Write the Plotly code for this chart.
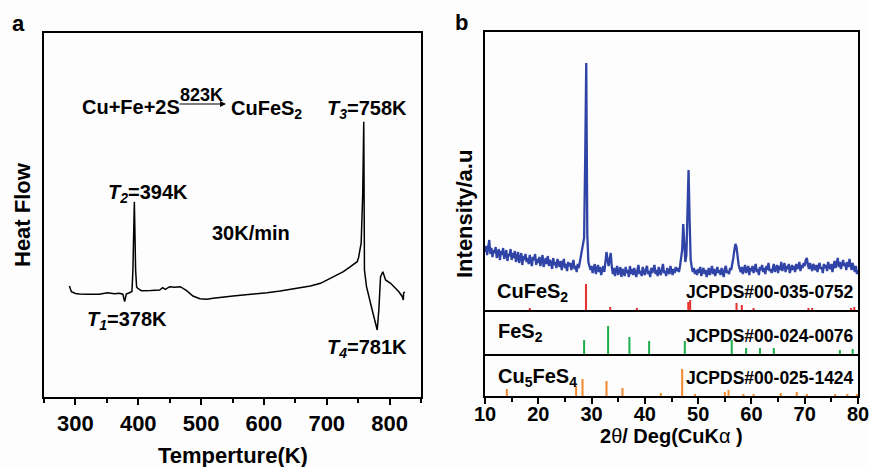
import plotly.graph_objects as go

# ---------------- Panel a : DSC curve ----------------
temps = [290.4, 293.6, 300, 306, 320, 338, 351, 362, 370, 375.5, 378.3, 381,
         385, 390, 391.5, 393.8, 395.8, 397.4, 399, 405, 420, 434, 439, 443,
         450, 458, 467, 477, 487, 498, 509, 519, 551, 578, 605, 626, 658, 674,
         690, 706, 726.5, 737.7, 743, 748.4, 750.5, 754.8, 757.3, 758.9, 760,
         763.3, 772.3, 780.3, 782.9, 785.6, 789.3, 793.6, 801.6, 814.8, 820.3,
         821.9, 822.3, 824]
heat_flow = [111, 105.3, 103.5, 103, 102.8, 102.7, 104.3, 103.2, 103.7, 102.8, 95.3, 103,
             104, 105.5, 127, 195.3, 127, 110, 108.7, 106.3, 106.5, 107, 109.3, 107.7,
             110.3, 109.7, 110.3, 106.3, 101, 98.3, 97.7, 98.7, 101, 102.5, 104.3, 106, 109.5, 111,
             113.7, 118.7, 125.3, 130.3, 133, 135.3, 139, 154, 204, 275.3, 127,
             110.3, 87, 67, 87, 120.3, 125.3, 117, 113.7, 105.3, 100.3,
             97, 104, 105.3]
temp_ticks = [300, 400, 500, 600, 700, 800]

# ---------------- Panel b : XRD ----------------
two_theta_start, two_theta_step = 10.0, 0.2
xrd_intensity = [
    58, 64, 55, 61, 70, 56, 62, 53, 60, 57,
    63, 52, 58, 61, 50, 59, 55, 62, 51, 57,
    60, 49, 56, 54, 61, 50, 57, 52, 59, 48,
    55, 58, 47, 53, 57, 45, 54, 50, 56, 48,
    52, 46, 55, 49, 44, 53, 50, 56, 45, 51,
    47, 53, 44, 50, 55, 43, 49, 52, 46, 54,
    44, 50, 47, 41, 52, 45, 48, 42, 51, 46,
    43, 49, 40, 47, 51, 42, 46, 39, 48, 44,
    47, 40, 45, 50, 41, 44, 38, 46, 42, 49,
    52, 58, 66, 72, 150, 247, 75, 48, 44, 40,
    44, 37, 42, 46, 36, 41, 45, 38, 43, 35,
    40, 44, 38, 46, 58, 50, 44, 51, 57, 43,
    36, 42, 34, 40, 44, 35, 39, 43, 33, 41,
    38, 34, 43, 37, 40, 33, 44, 36, 41, 35,
    42, 37, 33, 40, 45, 36, 39, 34, 43, 38,
    35, 41, 44, 36, 39, 33, 42, 37, 40, 45,
    36, 40, 34, 43, 38, 35, 41, 46, 37, 39,
    34, 42, 38, 36, 44, 40, 35, 41, 37, 43,
    39, 42, 38, 44, 50, 60, 86, 70, 48, 55,
    100, 140, 90, 50, 43, 38, 42, 36, 40, 35,
    41, 37, 43, 34, 39, 42, 36, 40, 33, 38,
    42, 35, 39, 44, 36, 41, 34, 38, 43, 37,
    40, 35, 42, 38, 33, 41, 44, 37, 39, 36,
    42, 40, 45, 52, 60, 66, 63, 52, 45, 41,
    38, 43, 36, 41, 45, 37, 40, 44, 35, 42,
    39, 44, 37, 42, 46, 38, 41, 35, 43, 40,
    45, 38, 42, 36, 44, 40, 47, 39, 41, 37,
    43, 46, 38, 42, 45, 37, 44, 40, 48, 39,
    42, 47, 38, 44, 41, 46, 37, 43, 45, 40,
    44, 38, 46, 41, 43, 48, 39, 45, 42, 47,
    44, 50, 52, 45, 41, 47, 43, 39, 46, 42,
    40, 45, 38, 44, 47, 41, 43, 37, 46, 42,
    45, 39, 48, 43, 41, 46, 38, 44, 49, 42,
    46, 52, 43, 48, 41, 45, 50, 44, 47, 40,
    48, 43, 51, 45, 40, 47, 42, 38, 44, 36,
    40]
two_theta = [round(two_theta_start + i * two_theta_step, 1) for i in range(len(xrd_intensity))]

cufes2_pos = [18.4, 28.95, 33.5, 38.5, 48.15, 48.5, 57.2, 58.2, 60.4, 70.7, 71.4, 78.7, 79.3]
cufes2_int = [2, 26, 3, 2, 8, 10, 7, 5, 2, 2, 2, 2, 3]
fes2_pos = [28.6, 33.1, 37.1, 40.8, 47.5, 56.3, 59.0, 61.6, 64.2, 76.6, 79.0]
fes2_int = [14, 28, 17, 13, 13, 14, 6, 6, 6, 4, 5]
cu5fes4_pos = [14.1, 27.1, 28.3, 32.8, 35.8, 43.0, 47.0, 49.4, 55.0, 55.7, 58.5, 60.4,
               65.5, 68.5, 70.4, 75.7, 78.0, 79.8]
cu5fes4_int = [7, 10, 17, 15, 8, 3, 27, 2, 4, 6, 2, 2, 3, 4, 2, 2, 2, 2]
theta_ticks = [10, 20, 30, 40, 50, 60, 70, 80]

# the page's body margin is removed (see post_script), so the figure fills the window
W, H = 869, 467
FONT = "Liberation Sans, Arial, sans-serif"


def fx(px):
    return px / W


def fy(py):
    return 1 - py / H


fig = go.Figure()
fig.add_trace(go.Scatter(x=temps, y=heat_flow, mode="lines",
                         line=dict(color="black", width=1.5), xaxis="x", yaxis="y"))
fig.add_trace(go.Scatter(x=two_theta, y=xrd_intensity, mode="lines",
                         line=dict(color="#2f44a6", width=2.3), xaxis="x2", yaxis="y2"))
fig.add_trace(go.Bar(x=cufes2_pos, y=cufes2_int, width=0.38, marker=dict(color="#e8302e", line=dict(width=0)),
                     xaxis="x2", yaxis="y2"))
fig.add_trace(go.Bar(x=fes2_pos, y=fes2_int, width=0.38, marker=dict(color="#1fae4c", line=dict(width=0)),
                     xaxis="x3", yaxis="y3"))
fig.add_trace(go.Bar(x=cu5fes4_pos, y=cu5fes4_int, width=0.38, marker=dict(color="#f28a2e", line=dict(width=0)),
                     xaxis="x4", yaxis="y4"))

base = dict(showgrid=False, zeroline=False, automargin=False, linecolor="black", linewidth=2)
frame = dict(showline=True, mirror=True, **base)
no_ticks = dict(ticks="", showticklabels=False)

fig.update_layout(
    width=W, height=H, margin=dict(l=0, r=0, t=0, b=0, pad=0), autosize=False,
    paper_bgcolor="#fdfdfe", plot_bgcolor="#fdfdfe", showlegend=False,
    font=dict(family=FONT, color="black"),
    xaxis=dict(domain=[fx(44), fx(421)], range=[250, 850], anchor="y",
               tickvals=temp_ticks, ticks="outside", ticklen=6, tickwidth=1.5, tickcolor="black",
               tickfont=dict(size=22, family=FONT, weight="bold"), ticklabelstandoff=0,
               ticklabeloverflow="allow",
               minor=dict(dtick=50, tick0=250, ticks="outside", ticklen=4, tickwidth=1.5, tickcolor="black"),
               **frame),
    yaxis=dict(domain=[fy(397), fy(33)], range=[0, 364], anchor="x", **no_ticks, **frame),
    xaxis2=dict(domain=[fx(485), fx(858)], range=[10, 80], anchor="y2", **no_ticks, **frame),
    yaxis2=dict(domain=[fy(310), fy(32)], range=[0, 278], anchor="x2", **no_ticks, **frame),
    xaxis3=dict(domain=[fx(485), fx(858)], range=[10, 80], anchor="y3", showline=True, mirror=False,
                **no_ticks, **base),
    yaxis3=dict(domain=[fy(354), fy(310)], range=[0, 44], anchor="x3", **no_ticks, **frame),
    xaxis4=dict(domain=[fx(485), fx(858)], range=[10, 80], anchor="y4", showline=True, mirror=False,
                tickvals=theta_ticks,
                ticks="outside", ticklen=6, tickwidth=1.5, tickcolor="black",
                tickfont=dict(size=20, family=FONT, weight="bold"), ticklabelstandoff=-7,
                ticklabeloverflow="allow",
                minor=dict(dtick=5, tick0=10, ticks="outside", ticklen=4, tickwidth=1.5, tickcolor="black"),
                **base),
    yaxis4=dict(domain=[fy(396), fy(354)], range=[0, 42], anchor="x4", **no_ticks, **frame),
)


def ann(px, py, text, size, xanchor="left", angle=0):
    fig.add_annotation(x=fx(px), y=fy(py), xref="paper", yref="paper", text=text,
                       showarrow=False, xanchor=xanchor, yanchor="middle", textangle=angle,
                       font=dict(size=size, family=FONT, color="black"))


# panel letters
ann(10, 24, "<b>a</b>", 22)
ann(453, 22, "<b>b</b>", 22)

# panel a texts
ann(80, 107, "<b>Cu+Fe+2S</b>", 20)
ann(201.7, 95, "<b>823K</b>", 18, xanchor="center")
fig.add_annotation(x=fx(226), y=fy(104), xref="paper", yref="paper", text="",
                   showarrow=True, ax=-48, ay=0, arrowhead=2, arrowsize=1,
                   arrowwidth=1.2, arrowcolor="black")
ann(229, 109, "<b>CuFeS<sub>2</sub></b>", 20)
ann(325, 109, "<b><i>T</i><sub><i>3</i></sub>=758K</b>", 20)
ann(106, 193, "<b><i>T</i><sub><i>2</i></sub>=394K</b>", 20)
ann(210, 233, "<b>30K/min</b>", 20)
ann(85, 320, "<b><i>T</i><sub><i>1</i></sub>=378K</b>", 20)
ann(325, 348, "<b><i>T</i><sub><i>4</i></sub>=781K</b>", 20)

# axis titles
ann(232.5, 455, "<b>Temperture(K)</b>", 22, xanchor="center")
ann(23, 215, "<b>Heat Flow</b>", 22, xanchor="center", angle=-90)
ann(464, 214, "<b>Intensity/a.u</b>", 22, xanchor="center", angle=-90)
ann(671, 436, "<b>2</b>θ<b>/ Deg(CuK</b>α <b>)</b>", 20, xanchor="center")

# panel b reference labels
ann(495, 292, "<b>CuFeS<sub>2</sub></b>", 20)
ann(496, 332, "<b>FeS<sub>2</sub></b>", 20)
ann(496, 377, "<b>Cu<sub>5</sub>FeS<sub>4</sub></b>", 20)
ann(856, 292, "<b>JCPDS#00-035-0752</b>", 17.5, xanchor="right")
ann(856, 336, "<b>JCPDS#00-024-0076</b>", 17.5, xanchor="right")
ann(856, 378, "<b>JCPDS#00-025-1424</b>", 17.5, xanchor="right")

fig.write_html("out.html",
               config={"displayModeBar": False},
               post_script="document.body.style.margin='0';"
                           "document.documentElement.style.overflow='hidden';")
